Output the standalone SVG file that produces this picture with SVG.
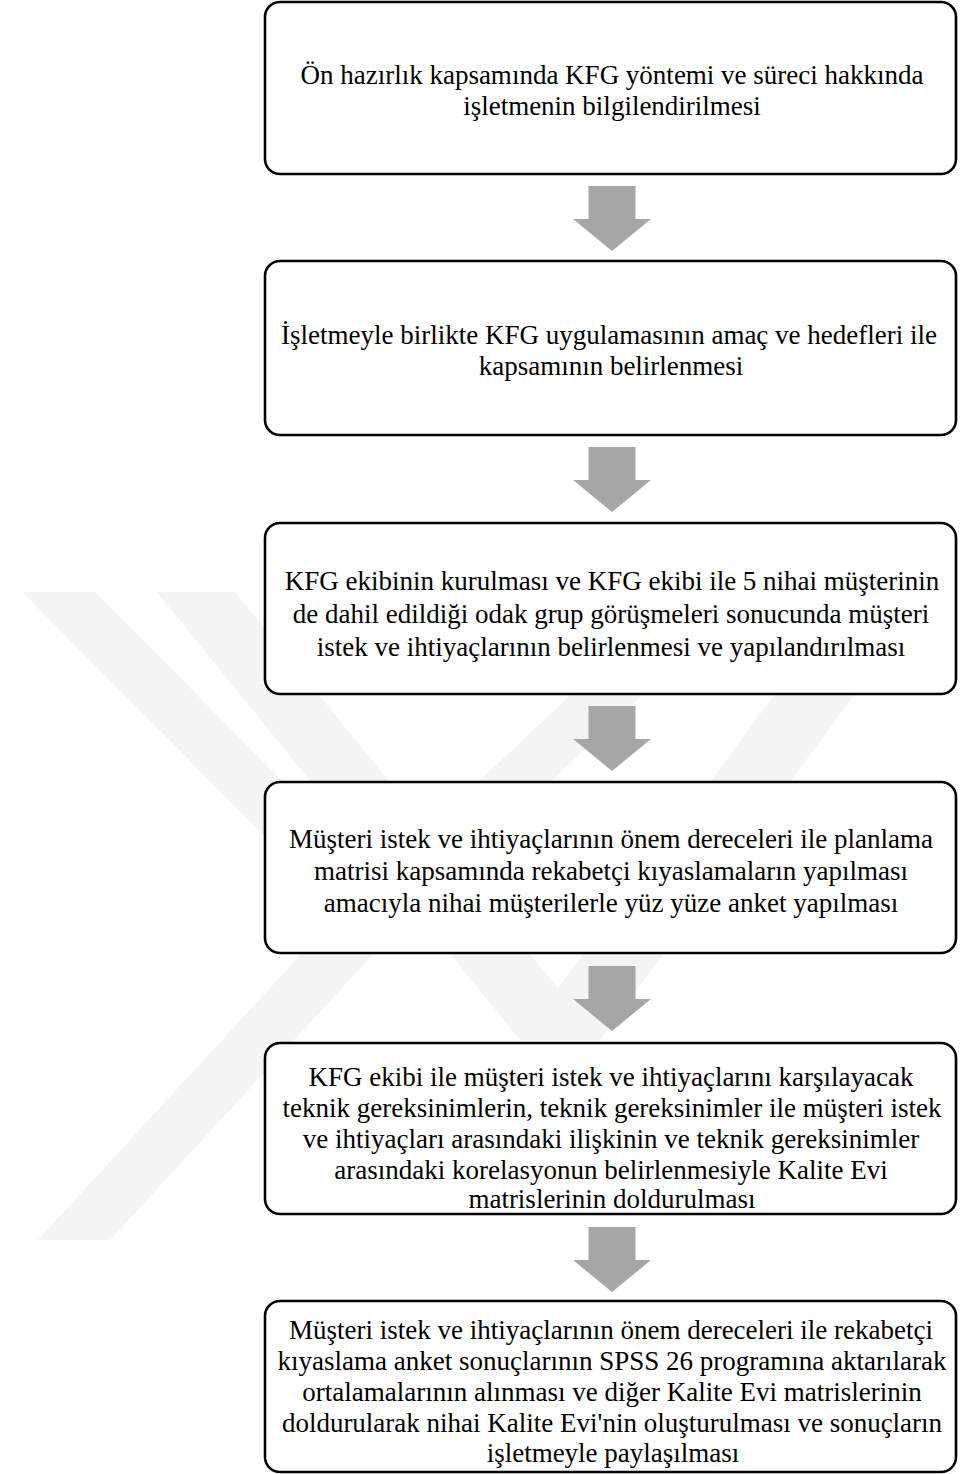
<svg xmlns="http://www.w3.org/2000/svg" width="979" height="1474" viewBox="0 0 979 1474">
<style>
.wm{fill:#f4f4f4;stroke:none}
.box{fill:#ffffff;stroke:#000000;stroke-width:2.6}
.arr{fill:#a6a6a6;stroke:none}
text{font-family:"Liberation Serif","Times New Roman",serif;font-size:27px;fill:#000000;text-anchor:middle}
</style>
<rect x="0" y="0" width="979" height="1474" fill="#ffffff"/>
<g id="watermark">
<polygon class="wm" points="22,592 95,592 412,912 340,912"/>
<polygon class="wm" points="340,912 412,912 752,592 680,592"/>
<polygon class="wm" points="340,912 412,912 110,1240 38,1240"/>
<polygon class="wm" points="157,592 235,592 600,1040 520,1040"/>
<polygon class="wm" points="520,1040 600,1040 930,592 850,592"/>
</g>
<g id="connectors">
<path class="arr" d="M588.5,186 H635.5 V219 H651 L612,251 L573,219 H588.5 Z"/>
<path class="arr" d="M588.5,447 H635.5 V480 H651 L612,512 L573,480 H588.5 Z"/>
<path class="arr" d="M588.5,706 H635.5 V739 H651 L612,771 L573,739 H588.5 Z"/>
<path class="arr" d="M588.5,966 H635.5 V999 H651 L612,1031 L573,999 H588.5 Z"/>
<path class="arr" d="M588.5,1227 H635.5 V1260 H651 L612,1292 L573,1260 H588.5 Z"/>
</g>
<g id="node1">
<rect class="box" x="265" y="2" width="691" height="172" rx="15"/>
<text x="612" y="84">Ön hazırlık kapsamında KFG yöntemi ve süreci hakkında</text>
<text x="612" y="115">işletmenin bilgilendirilmesi</text>
</g>
<g id="node2">
<rect class="box" x="265" y="261" width="691" height="174" rx="15"/>
<text x="609" y="344">İşletmeyle birlikte KFG uygulamasının amaç ve hedefleri ile</text>
<text x="611" y="375">kapsamının belirlenmesi</text>
</g>
<g id="node3">
<rect class="box" x="265" y="523" width="691" height="171" rx="15"/>
<text x="612" y="590">KFG ekibinin kurulması ve KFG ekibi ile 5 nihai müşterinin</text>
<text x="611" y="623">de dahil edildiği odak grup görüşmeleri sonucunda müşteri</text>
<text x="611" y="656">istek ve ihtiyaçlarının belirlenmesi ve yapılandırılması</text>
</g>
<g id="node4">
<rect class="box" x="265" y="782" width="691" height="171" rx="15"/>
<text x="611" y="848">Müşteri istek ve ihtiyaçlarının önem dereceleri ile planlama</text>
<text x="611" y="880">matrisi kapsamında rekabetçi kıyaslamaların yapılması</text>
<text x="611" y="912">amacıyla nihai müşterilerle yüz yüze anket yapılması</text>
</g>
<g id="node5">
<rect class="box" x="265" y="1043" width="691" height="171" rx="15"/>
<text x="611" y="1086">KFG ekibi ile müşteri istek ve ihtiyaçlarını karşılayacak</text>
<text x="612" y="1117">teknik gereksinimlerin, teknik gereksinimler ile müşteri istek</text>
<text x="611" y="1148">ve ihtiyaçları arasındaki ilişkinin ve teknik gereksinimler</text>
<text x="611" y="1179">arasındaki korelasyonun belirlenmesiyle Kalite Evi</text>
<text x="612" y="1208">matrislerinin doldurulması</text>
</g>
<g id="node6">
<rect class="box" x="265" y="1301" width="691" height="171" rx="15"/>
<text x="611" y="1339">Müşteri istek ve ihtiyaçlarının önem dereceleri ile rekabetçi</text>
<text x="612" y="1370">kıyaslama anket sonuçlarının SPSS 26 programına aktarılarak</text>
<text x="612" y="1401">ortalamalarının alınması ve diğer Kalite Evi matrislerinin</text>
<text x="612" y="1432">doldurularak nihai Kalite Evi'nin oluşturulması ve sonuçların</text>
<text x="613" y="1462">işletmeyle paylaşılması</text>
</g>
</svg>
